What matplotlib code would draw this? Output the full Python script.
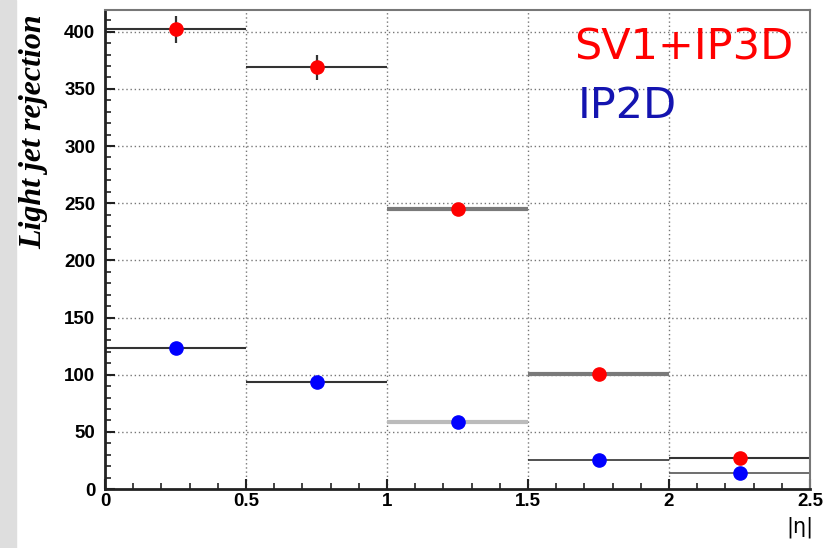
import numpy as np
import matplotlib
matplotlib.use("Agg")
import matplotlib.pyplot as plt
from matplotlib.patches import Rectangle
from matplotlib.ticker import MultipleLocator

# -----------------------------
# Data
# -----------------------------
bin_edges = [0.0, 0.5, 1.0, 1.5, 2.0, 2.5]
sv1_ip3d = [402, 369, 245, 101, 27]
sv1_ip3d_err = [12, 11, 3, 2, 1]
ip2d = [123, 94, 59, 25, 14]
ip2d_err = [1, 1, 1, 1, 1]

# histogram segment styles (the original has mixed gray shades)
sv1_seg_color = ["#333333", "#333333", "#7a7a7a", "#7a7a7a", "#333333"]
sv1_seg_width = [1.5, 1.5, 3.0, 3.0, 1.5]
ip2d_seg_color = ["#333333", "#333333", "#bbbbbb", "#333333", "#555555"]
ip2d_seg_width = [1.5, 1.5, 3.0, 1.2, 1.2]

centers = [(lo + hi) / 2 for lo, hi in zip(bin_edges[:-1], bin_edges[1:])]

# -----------------------------
# Figure
# -----------------------------
fig = plt.figure(figsize=(8.36, 5.48), dpi=100)
fig.patches.append(Rectangle((0, 0), 16 / 836, 1, transform=fig.transFigure,
                             color="#dedede", zorder=0))
ax = fig.add_axes([105 / 836, 1 - 489 / 548, 705 / 836, 479 / 548])

# grid
for x in [0.5, 1.0, 1.5, 2.0]:
    ax.axvline(x, color="#777777", lw=1.0, ls=(0, (1, 2)), zorder=1)
for y in range(50, 401, 50):
    ax.axhline(y, color="#777777", lw=1.0, ls=(0, (1, 2)), zorder=1)

# histogram segments
for i in range(len(centers)):
    lo, hi = bin_edges[i], bin_edges[i + 1]
    ax.plot([lo, hi], [sv1_ip3d[i]] * 2, color=sv1_seg_color[i],
            lw=sv1_seg_width[i], solid_capstyle="butt", zorder=2)
    ax.plot([lo, hi], [ip2d[i]] * 2, color=ip2d_seg_color[i],
            lw=ip2d_seg_width[i], solid_capstyle="butt", zorder=2)

# points with errors
ax.errorbar(centers, sv1_ip3d, yerr=sv1_ip3d_err, fmt="o", color="#ff0000",
            ecolor="#333333", elinewidth=1.6, ms=9.5, mec="#ff0000", zorder=3)
ax.errorbar(centers, ip2d, yerr=ip2d_err, fmt="o", color="#0000ff",
            ecolor="#333333", elinewidth=1.0, ms=9.5, mec="#0000ff", zorder=3)

# -----------------------------
# Axes formatting (ROOT-like)
# -----------------------------
ax.set_xlim(0, 2.5)
ax.set_ylim(0, 419)
ax.xaxis.set_minor_locator(MultipleLocator(0.1))
ax.yaxis.set_minor_locator(MultipleLocator(10))
ax.tick_params(which="both", direction="in", color="#222222")
ax.tick_params(which="major", length=7, width=1.5)
ax.tick_params(which="minor", length=4, width=1.2)

ax.set_xticks([0, 0.5, 1, 1.5, 2, 2.5])
ax.set_xticklabels(["0", "0.5", "1", "1.5", "2", "2.5"])
ax.set_yticks(range(0, 401, 50))
for lab in ax.get_xticklabels() + ax.get_yticklabels():
    lab.set_fontfamily("Liberation Sans")
    lab.set_fontweight("bold")
    lab.set_fontsize(13.5)
ax.tick_params(axis="x", pad=3)
ax.tick_params(axis="y", pad=7)

ax.spines["left"].set_linewidth(2)
ax.spines["bottom"].set_linewidth(2)
ax.spines["left"].set_color("#222222")
ax.spines["bottom"].set_color("#222222")
for s in ["top", "right"]:
    ax.spines[s].set_linewidth(1.5)
    ax.spines[s].set_color("#777777")

# axis titles
fig.text(34 / 836, 1 - 132 / 548, "Light jet rejection", rotation=90,
         ha="center", va="center", fontfamily="Liberation Serif",
         fontweight="bold", fontstyle="italic", fontsize=23)
fig.text(800 / 836, 1 - 527 / 548, "|η|", ha="center", va="center",
         fontfamily="DejaVu Sans", fontsize=15)

# legend-like labels
fig.text(574 / 836, 1 - 60 / 548, "SV1+IP3D", color="#ff0000",
         fontfamily="DejaVu Sans", fontsize=31, va="baseline", ha="left")
fig.text(578 / 836, 1 - 118 / 548, "IP2D", color="#1414b0",
         fontfamily="DejaVu Sans", fontsize=31, va="baseline", ha="left")

fig.savefig("out.png", dpi=100)
